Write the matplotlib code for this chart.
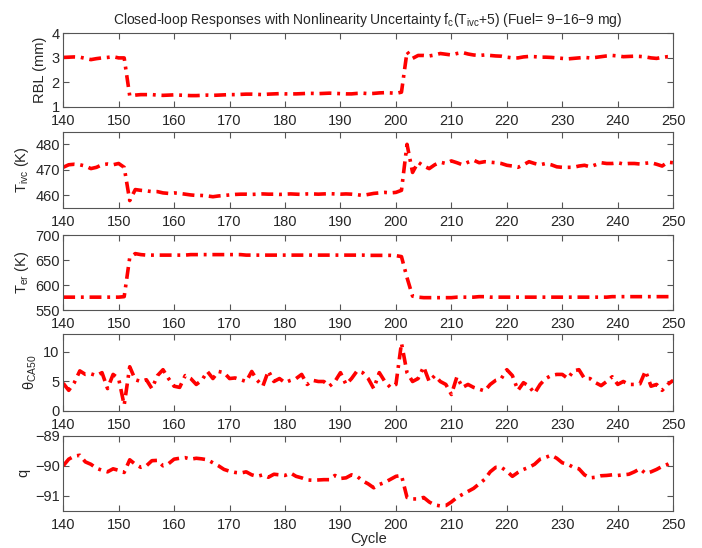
import numpy as np
import matplotlib
matplotlib.use("Agg")
import matplotlib.pyplot as plt

plt.rcParams['font.family'] = ['Liberation Sans', 'DejaVu Sans']
plt.rcParams['mathtext.fontset'] = 'custom'
plt.rcParams['mathtext.rm'] = 'Liberation Sans'
plt.rcParams['mathtext.it'] = 'Liberation Sans'

cycles = list(range(140, 251))

rbl = [3.02, 3.03, 3.04, 3.03, 2.98, 2.93, 2.97, 3.0, 3.02, 3.05,
       3.0, 3.0, 1.45, 1.48, 1.5, 1.5, 1.5, 1.48, 1.47, 1.48,
       1.49, 1.48, 1.47, 1.46, 1.46, 1.47, 1.48, 1.47, 1.48, 1.49,
       1.5, 1.5, 1.51, 1.52, 1.52, 1.51, 1.5, 1.52, 1.53, 1.54,
       1.53, 1.53, 1.53, 1.54, 1.55, 1.55, 1.54, 1.55, 1.56, 1.55,
       1.54, 1.53, 1.53, 1.55, 1.56, 1.54, 1.55, 1.57, 1.58, 1.57,
       1.55, 1.6, 3.25, 2.98, 3.1, 3.1, 3.08, 3.12, 3.18, 3.15,
       3.12, 3.18, 3.22, 3.16, 3.12, 3.1, 3.12, 3.1, 3.08, 3.07,
       3.03, 3.0, 3.0, 3.04, 3.06, 3.05, 3.03, 3.03, 3.02, 3.0,
       2.98, 2.96, 2.98, 3.0, 3.02, 3.0, 3.02, 3.05, 3.08, 3.1,
       3.08, 3.05, 3.06, 3.07, 3.06, 3.04, 3.0, 2.98, 3.02, 3.05,
       3.05]

t_ivc = [471.0, 472.0, 472.2, 472.0, 471.5, 470.5, 471.0, 472.0, 472.3, 472.0,
         472.5, 471.0, 458.0, 462.3, 462.0, 461.8, 461.5, 461.5, 461.0, 460.8,
         461.0, 460.8, 460.5, 460.2, 460.0, 460.0, 459.8, 459.5, 459.8, 460.0,
         460.2, 460.4, 460.5, 460.5, 460.4, 460.5, 460.6, 460.5, 460.5, 460.4,
         460.5, 460.6, 460.5, 460.4, 460.6, 460.6, 460.5, 460.6, 460.7, 460.6,
         460.5, 460.6, 460.5, 460.3, 460.0, 460.4, 460.8, 461.0, 461.2, 461.0,
         461.2, 462.0, 480.0, 469.0, 473.0, 471.5, 470.5, 472.0, 473.0, 472.5,
         473.5, 472.8, 472.0, 473.0, 473.8, 472.8, 473.2, 473.0, 472.8, 472.5,
         471.8, 471.5, 471.0, 472.0, 473.2, 472.5, 472.0, 472.5, 472.0, 471.2,
         471.0, 471.0, 471.0, 471.5, 471.8, 471.2, 472.0, 472.8, 472.5, 472.5,
         472.8, 472.3, 472.5, 472.5, 472.3, 472.6, 472.8, 472.2, 471.5, 473.0,
         472.8]

t_er = [576, 576, 576, 576, 576, 576, 576, 576, 576, 576,
        576, 577, 655, 663, 661, 660, 660, 660, 660, 660,
        660, 660, 660, 661, 661, 661, 661, 661, 661, 661,
        661, 661, 661, 660, 660, 660, 660, 660, 660, 660,
        660, 660, 660, 660, 660, 660, 660, 660, 660, 660,
        660, 660, 660, 660, 660, 659.5, 659.5, 659.5, 659.5, 659.5,
        659, 657, 615, 578, 576, 575, 575, 575, 575, 575,
        575, 576, 576, 576, 576, 577, 577, 576, 576, 576,
        576, 576, 576, 576, 576, 576, 576, 576, 576, 576,
        576, 576, 576, 576, 576, 576, 576, 576, 576, 577,
        577, 577, 577, 577, 577, 577, 577, 577, 577, 577,
        577]

theta = [4.7, 3.5, 4.8, 6.8, 6.2, 6.3, 6.0, 6.5, 3.8, 6.2,
         5.5, 1.0, 7.5, 5.3, 5.0, 5.3, 3.8, 6.0, 7.0, 5.5,
         4.2, 4.0, 6.0, 5.5, 4.5, 5.2, 6.7, 5.5, 6.7, 6.5,
         5.5, 5.6, 5.3, 5.0, 6.7, 5.2, 4.2, 6.8, 5.0, 5.5,
         4.8, 5.2, 5.5, 6.2, 4.5, 5.2, 5.0, 5.0, 4.2, 5.0,
         6.5, 4.5, 5.5, 6.8, 6.5, 5.5, 3.8, 6.5, 5.0, 4.0,
         4.5, 11.5, 6.5, 5.0, 5.5, 7.5, 5.0, 6.0, 5.0, 4.5,
         2.8, 5.8, 4.0, 4.5, 4.0, 3.7, 3.4, 4.5, 5.2, 5.5,
         7.0, 6.0, 3.5, 4.8, 4.2, 3.0, 4.5, 5.5, 6.0, 6.2,
         6.2, 5.5, 6.8, 7.0, 5.5, 5.5, 4.8, 4.3, 5.0, 5.8,
         4.5, 5.0, 4.5, 4.5, 4.6, 6.8, 4.2, 4.5, 3.5, 4.5,
         5.2]

q = [-90.0, -89.78, -89.68, -89.65, -89.87, -89.95, -90.08, -90.15, -90.2, -90.1,
     -90.15, -90.22, -89.8, -89.95, -90.05, -90.0, -89.83, -89.82, -90.0, -89.93,
     -89.78, -89.75, -89.73, -89.78, -89.75, -89.77, -89.8, -89.9, -90.0, -90.12,
     -90.18, -90.22, -90.24, -90.2, -90.3, -90.35, -90.3, -90.38, -90.28, -90.3,
     -90.32, -90.24, -90.35, -90.4, -90.47, -90.48, -90.47, -90.46, -90.46, -90.32,
     -90.42, -90.4, -90.3, -90.35, -90.5, -90.6, -90.73, -90.62, -90.55, -90.45,
     -90.35, -90.32, -91.05, -91.1, -91.1, -91.05, -91.2, -91.3, -91.33, -91.32,
     -91.2, -91.05, -90.95, -90.85, -90.75, -90.6, -90.45, -90.2, -90.05, -90.05,
     -90.18, -90.35, -90.22, -90.12, -90.05, -89.95, -89.78, -89.72, -89.65, -89.75,
     -89.9, -89.95, -90.05, -90.1, -90.3, -90.4, -90.38, -90.33, -90.32, -90.3,
     -90.32, -90.3, -90.28, -90.2, -90.1, -90.25, -90.2, -90.12, -90.02, -89.95,
     -89.85]

series = [rbl, t_ivc, t_er, theta, q]
ylabels = ['RBL (mm)', r'T$_{\mathregular{ivc}}$ (K)', r'T$_{\mathregular{er}}$ (K)',
           r'$\mathregular{\theta_{CA50}}$', 'q']
ylims = [(1, 4), (455, 485), (550, 700), (0, 13), (-91.5, -89)]
yticks = [[1, 2, 3, 4], [460, 470, 480], [550, 600, 650, 700], [0, 5, 10], [-91, -90, -89]]

# axes boxes in figure fraction (left, bottom, width, height)
boxes = [(0.090, 0.805, 0.869, 0.134),
         (0.090, 0.620, 0.869, 0.140),
         (0.090, 0.434, 0.869, 0.137),
         (0.090, 0.250, 0.869, 0.140),
         (0.090, 0.0675, 0.869, 0.1375)]

txt = '#262626'
edge = '#555555'

fig = plt.figure(figsize=(7.02, 5.48), dpi=100)

axes = []
for i, (data, box) in enumerate(zip(series, boxes)):
    ax = fig.add_axes(box)
    ax.plot(cycles, data, color='red', linestyle='-.', linewidth=2.6,
            dashes=(3.3, 1.6, 0.8, 1.6))
    ax.set_xlim(140, 250)
    ax.set_ylim(*ylims[i])
    ax.set_xticks(range(140, 251, 10))
    ax.set_yticks(yticks[i])
    ax.set_ylabel(ylabels[i], fontsize=10.5, color=txt, labelpad=3)
    ax.tick_params(direction='in', top=True, right=True, length=4,
                   width=0.8, color=edge, labelsize=10.5, labelcolor=txt)
    ax.tick_params(axis='x', pad=5)
    ax.tick_params(axis='y', pad=2.5)
    for s in ax.spines.values():
        s.set_color(edge)
        s.set_linewidth(0.8)
    axes.append(ax)

axes[-1].set_xlabel('Cycle', fontsize=10.5, color=txt, labelpad=0)
axes[0].set_title(r'Closed-loop Responses with Nonlinearity Uncertainty f$_{\mathregular{c}}$(T$_{\mathregular{ivc}}$+5) (Fuel= 9$-$16$-$9 mg)',
                  fontsize=10, color=txt, pad=7)

fig.savefig('out.png', dpi=100)
